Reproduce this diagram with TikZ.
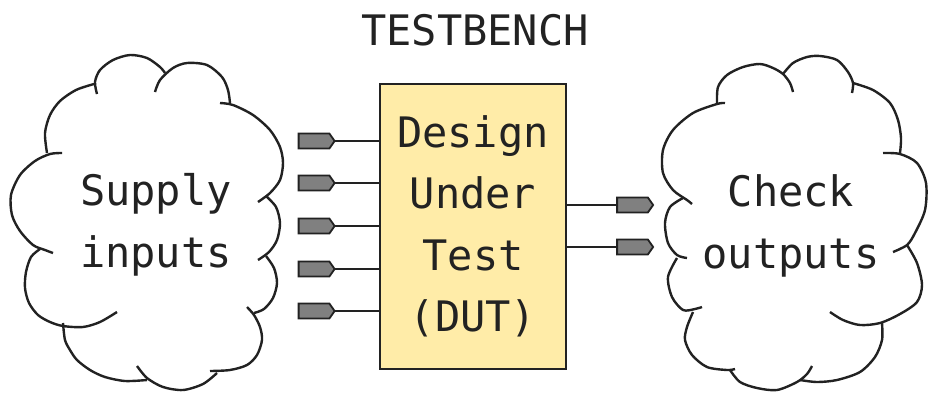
\documentclass[tikz,border=0pt]{standalone}
\usepackage{fontspec}
\setmainfont{DejaVu Sans Mono}
\usetikzlibrary{shapes.symbols}
\definecolor{ink}{RGB}{34,34,34}
\definecolor{dutfill}{RGB}{255,236,168}
\definecolor{pingray}{RGB}{128,128,128}

\begin{document}
\begin{tikzpicture}[x=1pt,y=-1pt,
  cloudline/.style={draw=ink, line width=2.4pt, line join=round},
  txt/.style={font=\fontsize{42}{61.5}\selectfont, text=ink, align=center, inner sep=0pt},
  pinshape/.style={signal, signal to=east, signal pointer angle=110, draw=ink,
    fill=pingray, line width=1.8pt, minimum width=36pt, minimum height=15pt,
    inner sep=0pt, outer sep=0pt},
  wire/.style={draw=ink, line width=2pt}]
\useasboundingbox (0,0) rectangle (929,392);

% title
\node[txt, anchor=base] (title) at (475,45) {TESTBENCH};

% device under test
\node[draw=ink, fill=dutfill, line width=2pt, minimum width=186pt,
  minimum height=285pt, txt] (dut) at (473,226.5) {Design\\Under\\Test\\(DUT)};

% input pins
\foreach \i/\y in {1/141,2/183,3/226,4/269,5/311}{
  \node[pinshape] (in\i) at (314,\y) {};
  \draw[wire] (in\i.east) -- (in\i.east -| dut.west);
}
% output pins
\foreach \i/\y in {1/205,2/247}{
  \node[pinshape] (out\i) at (632.5,\y) {};
  \draw[wire] (out\i.west -| dut.east) -- (out\i.west);
}

% stimulus cloud
\node[txt] (supply) at (156,224.7) {Supply\\inputs};
\draw[cloudline] plot[smooth] coordinates {(47,153) (45,133) (50,115) (60,101) (76,90) (94,84)};
\draw[cloudline] plot[smooth] coordinates {(97,94) (95,82) (100,70) (113,60) (130,55) (147,58) (160,67) (165,73)};
\draw[cloudline] plot[smooth] coordinates {(155,92) (160,80) (173,68) (187,63) (207,65) (222,77) (228,90) (230,103)};
\draw[cloudline] plot[smooth] coordinates {(220,103) (233,105) (253,115) (270,130) (280,147) (283,163) (280,180) (270,193) (258,202)};
\draw[cloudline] plot[smooth] coordinates {(266,196) (276,207) (280,223) (277,240) (269,252) (258,260)};
\draw[cloudline] plot[smooth] coordinates {(266,256) (274,268) (277,283) (273,298) (264,309) (254,313)};
\draw[cloudline] plot[smooth] coordinates {(247,307) (254,315) (260,327) (262,340) (257,355) (247,365) (230,370) (210,371)};
\draw[cloudline] plot[smooth] coordinates {(217,373) (203,384) (183,390) (163,387) (147,378) (137,366)};
\draw[cloudline] plot[smooth] coordinates {(147,380) (125,381) (105,377) (90,370) (77,360) (70,350) (65,340) (63,323)};
\draw[cloudline] plot[smooth] coordinates {(117,312) (100,322) (83,327) (63,326) (50,322) (38,315) (29,303) (25,288) (26,272) (31,257) (40,249)};
\draw[cloudline] plot[smooth] coordinates {(53,253) (45,250) (33,245) (20,231) (12,215) (11,195) (20,175) (35,161) (50,154) (62,153)};

% checking cloud
\node[txt] (check) at (791,225.7) {Check\\outputs};
\draw[cloudline] plot[smooth] coordinates {(692,204) (687,200) (673,190) (663,173) (663,150) (673,130) (693,113) (717,104) (725,103)};
\draw[cloudline] plot[smooth] coordinates {(717,104) (718,87) (727,75) (743,67) (760,64) (773,68) (783,74) (790,83) (793,92)};
\draw[cloudline] plot[smooth] coordinates {(783,74) (793,63) (807,57) (820,56) (837,60) (848,72) (853,83) (852,93)};
\draw[cloudline] plot[smooth] coordinates {(853,83) (873,90) (890,103) (898,120) (901,138) (900,153)};
\draw[cloudline] plot[smooth] coordinates {(883,153) (900,154) (917,163) (926,183) (925,210) (915,233) (907,245) (893,252)};
\draw[cloudline] plot[smooth] coordinates {(907,245) (917,263) (922,285) (917,302) (900,314) (880,323) (860,325) (843,320) (830,312)};
\draw[cloudline] plot[smooth] coordinates {(882,323) (882,340) (875,357) (860,372) (837,380) (817,382) (800,380)};
\draw[cloudline] plot[smooth] coordinates {(812,366) (807,374) (797,382) (777,390) (757,388) (740,382) (730,370)};
\draw[cloudline] plot[smooth] coordinates {(735,369) (727,370) (707,367) (692,355) (685,340) (687,327) (693,312)};
\draw[cloudline] plot[smooth] coordinates {(702,307) (695,309) (683,310) (672,297) (668,277) (677,258)};
\draw[cloudline] plot[smooth] coordinates {(683,198) (670,207) (665,223) (668,243) (677,255) (687,258)};
\end{tikzpicture}
\end{document}
